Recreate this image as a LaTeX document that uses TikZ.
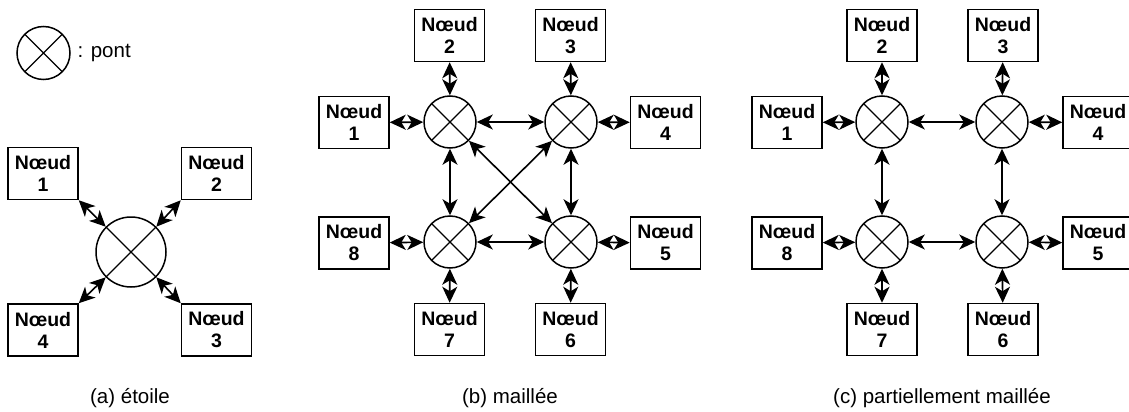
\documentclass[tikz,border=0pt]{standalone}
\usepackage{fontspec}
\setmainfont{Liberation Sans}
\usetikzlibrary{arrows.meta}

\begin{document}
\begin{tikzpicture}[x=1pt,y=-1pt,
lien/.style={{Stealth[length=16pt,width=15pt,inset=4.5pt]}-{Stealth[length=16pt,width=15pt,inset=4.5pt]},line width=1.6pt},
noeud/.style={rectangle,draw,line width=1.5pt,minimum width=70pt,minimum height=52pt,inner sep=0pt,align=center,font=\fontsize{19.5}{22}\selectfont\bfseries},
% cercle barre d'une croix
pont/.style={circle,draw,line width=1.5pt,minimum size=52pt,inner sep=0pt,
path picture={\draw[line width=1.3pt] (path picture bounding box.north west) -- (path picture bounding box.south east)
(path picture bounding box.north east) -- (path picture bounding box.south west);}},
legende/.style={font=\fontsize{20.5}{24}\selectfont}]
\useasboundingbox (0,0) rectangle (1129,412);

% legende
\node[pont,minimum size=53pt] (P) at (43.5,53) {};
\node[legende,anchor=west] (Ptxt) at (74,53) {: pont};

% (a) etoile
\node[pont,minimum size=70pt] (A) at (131,252) {};
\node[noeud] (a1) at (43,173.5) {Nœud\\1};
\node[noeud] (a2) at (216.5,173.5) {Nœud\\2};
\node[noeud] (a3) at (216.5,330) {Nœud\\3};
\node[noeud] (a4) at (43,330) {Nœud\\4};
\draw[lien] (a1.south east) -- (A.135);
\draw[lien] (a2.south west) -- (A.45);
\draw[lien] (a3.north west) -- (A.-45);
\draw[lien] (a4.north east) -- (A.-135);
\node[legende] (capa) at (130,398) {(a) étoile};

% (b) maillee
\node[pont] (B1) at (450,122) {};
\node[pont] (B2) at (571,122) {};
\node[pont] (B3) at (571,242) {};
\node[pont] (B4) at (450,242) {};
\node[noeud] (b1) at (354,122.5) {Nœud\\1};
\node[noeud] (b2) at (449.5,35.5) {Nœud\\2};
\node[noeud] (b3) at (570.5,35.5) {Nœud\\3};
\node[noeud] (b4) at (665.5,122.5) {Nœud\\4};
\node[noeud] (b5) at (665.5,243) {Nœud\\5};
\node[noeud] (b6) at (570.5,329.5) {Nœud\\6};
\node[noeud] (b7) at (449.5,329.5) {Nœud\\7};
\node[noeud] (b8) at (354,243) {Nœud\\8};
\draw[lien] (b1) -- (B1);
\draw[lien] (b2) -- (B1);
\draw[lien] (b3) -- (B2);
\draw[lien] (b4) -- (B2);
\draw[lien] (b5) -- (B3);
\draw[lien] (b6) -- (B3);
\draw[lien] (b7) -- (B4);
\draw[lien] (b8) -- (B4);
\draw[lien] (B1) -- (B2);
\draw[lien] (B2) -- (B3);
\draw[lien] (B3) -- (B4);
\draw[lien] (B4) -- (B1);
\draw[lien] (B1) -- (B3);
\draw[lien] (B2) -- (B4);
\node[legende] (capb) at (510,398) {(b) maillée};

% (c) partiellement maillee
\node[pont] (C1) at (882,122) {};
\node[pont] (C2) at (1002,122) {};
\node[pont] (C3) at (1002,242) {};
\node[pont] (C4) at (882,242) {};
\node[noeud] (c1) at (787,122.5) {Nœud\\1};
\node[noeud] (c2) at (882,35.5) {Nœud\\2};
\node[noeud] (c3) at (1003,35.5) {Nœud\\3};
\node[noeud] (c4) at (1098,122.5) {Nœud\\4};
\node[noeud] (c5) at (1098,243) {Nœud\\5};
\node[noeud] (c6) at (1003,329.5) {Nœud\\6};
\node[noeud] (c7) at (882,329.5) {Nœud\\7};
\node[noeud] (c8) at (787,243) {Nœud\\8};
\draw[lien] (c1) -- (C1);
\draw[lien] (c2) -- (C1);
\draw[lien] (c3) -- (C2);
\draw[lien] (c4) -- (C2);
\draw[lien] (c5) -- (C3);
\draw[lien] (c6) -- (C3);
\draw[lien] (c7) -- (C4);
\draw[lien] (c8) -- (C4);
\draw[lien] (C1) -- (C2);
\draw[lien] (C2) -- (C3);
\draw[lien] (C3) -- (C4);
\draw[lien] (C4) -- (C1);
\node[legende] (capc) at (942,398) {(c) partiellement maillée};
\end{tikzpicture}
\end{document}
